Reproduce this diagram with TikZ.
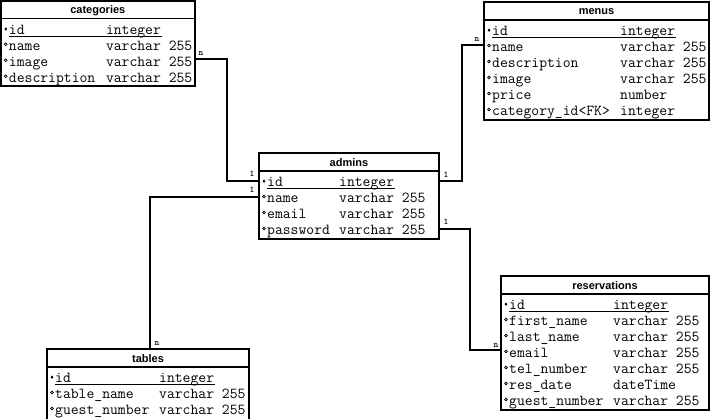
\documentclass[tikz,border=0pt]{standalone}
\usepackage{fontspec}
\setmainfont{Liberation Sans}
\usetikzlibrary{calc}
\tikzset{
  tbox/.style={draw,line width=1.6pt,anchor=north west,inner sep=0pt,outer sep=0pt},
  ttl/.style={font=\fontsize{11}{12}\selectfont\bfseries,inner sep=0pt},
  fld/.style={font=\fontsize{15.24}{16}\selectfont\ttfamily,inner sep=0pt,anchor=base west},
  sepline/.style={line width=1.4pt},
  conn/.style={line width=1.6pt},
  card/.style={font=\fontsize{9}{9}\selectfont\ttfamily\bfseries,inner sep=0pt},
  ulin/.style={line width=0.9pt},
  mk/.style={line width=0.7pt}
}
\newcommand\ertable[6]{%
  \node[tbox,minimum width=#4pt,minimum height=#5pt] (#1) at (#2,#3) {};
  \node[ttl] (#1-title) at ($(#1.north)+(0,10)$) {#6};
  \draw[sepline] ($(#1.north west)+(0,18)$) -- ($(#1.north east)+(0,18)$);
}
\newcommand\erid[3]{%
  \node[fld] (#1-f0) at ($(#1.north west)+(8,33.5)$) {id};
  \node[fld] (#1-t0) at ($(#1.north west)+(#2,33.5)$) {#3};
  \draw[ulin] ($(#1.north west)+(8,35.5)$) -- ($(#1.north west)+(#2+56,35.5)$);
  \fill ($(#1.north west)+(5,26.5)$) -- ++(1.3,1.7) -- ++(-1.3,1.7) -- ++(-1.3,-1.7) -- cycle;
}
\newcommand\errow[5]{%
  \node[fld] (#1-f#2) at ($(#1.north west)+(8,{33.5+16*#2})$) {#3};
  \node[fld] (#1-t#2) at ($(#1.north west)+(#5,{33.5+16*#2})$) {#4};
  \draw[mk] ($(#1.north west)+(5,{27.5+16*#2})$) circle (1.4pt);
}
\begin{document}
\begin{tikzpicture}[x=1pt,y=-1pt]
\useasboundingbox (0,0) rectangle (710,419);

% categories
\ertable{cat}{0.8}{0.8}{194}{85.5}{categories}
\erid{cat}{105}{integer}
\errow{cat}{1}{name}{varchar 255}{105}
\errow{cat}{2}{image}{varchar 255}{105}
\errow{cat}{3}{description}{varchar 255}{105}

% menus
\ertable{men}{484}{2}{225}{118}{menus}
\erid{men}{136}{integer}
\errow{men}{1}{name}{varchar 255}{136}
\errow{men}{2}{description}{varchar 255}{136}
\errow{men}{3}{image}{varchar 255}{136}
\errow{men}{4}{price}{number}{136}
\errow{men}{5}{category\_id<FK>}{integer}{136}

% admins
\ertable{adm}{259}{153}{180}{86}{admins}
\erid{adm}{80}{integer}
\errow{adm}{1}{name}{varchar 255}{80}
\errow{adm}{2}{email}{varchar 255}{80}
\errow{adm}{3}{password}{varchar 255}{80}

% reservations
\ertable{res}{501}{276}{208}{134}{reservations}
\erid{res}{112}{integer}
\errow{res}{1}{first\_name}{varchar 255}{112}
\errow{res}{2}{last\_name}{varchar 255}{112}
\errow{res}{3}{email}{varchar 255}{112}
\errow{res}{4}{tel\_number}{varchar 255}{112}
\errow{res}{5}{res\_date}{dateTime}{112}
\errow{res}{6}{guest\_number}{varchar 255}{112}

% tables
\ertable{tab}{47}{349}{202}{72}{tables}
\erid{tab}{112}{integer}
\errow{tab}{1}{table\_name}{varchar 255}{112}
\errow{tab}{2}{guest\_number}{varchar 255}{112}

% connectors
\draw[conn] ($(cat.north east)+(0,58.2)$) -- ++(32,0) |- ($(adm.north west)+(0,28)$);
\draw[conn] ($(adm.north west)+(0,44)$) -| ($(tab.north west)+(103,0)$);
\draw[conn] ($(men.north west)+(0,43)$) -- ++(-22,0) |- ($(adm.north east)+(0,28)$);
\draw[conn] ($(adm.north east)+(0,76)$) -- ++(31,0) |- ($(res.north west)+(0,74)$);

% cardinalities
\node[card] (c1) at (201,53.5) {n};
\node[card] (c2) at (252,174) {1};
\node[card] (c3) at (252,190) {1};
\node[card] (c4) at (157,343.5) {n};
\node[card] (c5) at (477,39.5) {n};
\node[card] (c6) at (446,175) {1};
\node[card] (c7) at (446,222) {1};
\node[card] (c8) at (496,345.5) {n};
\end{tikzpicture}
\end{document}
